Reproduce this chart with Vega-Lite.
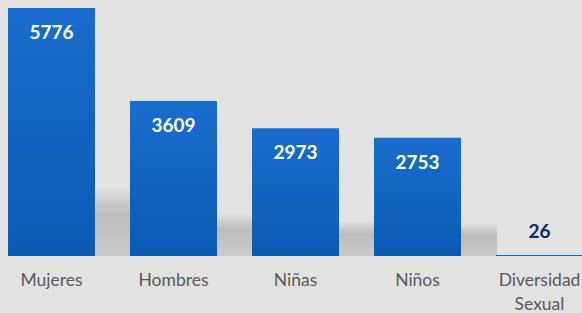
{
  "$schema": "https://vega.github.io/schema/vega-lite/v6.json",
  "width": 582,
  "height": 256,
  "autosize": {"type": "none"},
  "padding": {"left": 0, "top": 0, "right": 0, "bottom": 57},
  "background": "#e2e2e2",
  "config": {"view": {"stroke": null}},
  "data": {
    "values": [
      {"categoria": "Mujeres", "valor": 5776},
      {"categoria": "Hombres", "valor": 3609},
      {"categoria": "Niñas", "valor": 2973},
      {"categoria": "Niños", "valor": 2753},
      {"categoria": "Diversidad Sexual", "valor": 26}
    ]
  },
  "encoding": {
    "x": {
      "field": "categoria",
      "type": "nominal",
      "sort": null,
      "scale": {"range": [-9.5, 600.5], "paddingInner": 0.287, "paddingOuter": 0.1435},
      "axis": {
        "title": null,
        "ticks": false,
        "domain": false,
        "labelAngle": 0,
        "labelFont": "Lato",
        "labelFontSize": 17.5,
        "labelColor": "#595959",
        "labelPadding": 15,
        "labelLineHeight": 24,
        "labelBaseline": "top",
        "labelExpr": "datum.label == 'Diversidad Sexual' ? ['Diversidad', 'Sexual'] : datum.label"
      }
    },
    "y": {
      "field": "valor",
      "type": "quantitative",
      "scale": {"domain": [0, 5962], "nice": false},
      "axis": null
    }
  },
  "layer": [
    {
      "transform": [{"filter": "datum.valor > 100"}],
      "mark": {
        "type": "bar",
        "xOffset": 36,
        "fill": {
          "gradient": "linear",
          "x1": 0, "y1": 0, "x2": 0, "y2": 1,
          "stops": [
            {"offset": 0, "color": "rgba(100,100,100,0)"},
            {"offset": 0.72, "color": "rgba(100,100,100,0)"},
            {"offset": 0.83, "color": "rgba(100,100,100,0.3)"},
            {"offset": 1, "color": "rgba(100,100,100,0.18)"}
          ]
        }
      }
    },
    {
      "mark": {
        "type": "bar",
        "fill": {
          "gradient": "linear",
          "x1": 0, "y1": 0, "x2": 0, "y2": 1,
          "stops": [
            {"offset": 0, "color": "#1a6dcd"},
            {"offset": 1, "color": "#0a5bb3"}
          ]
        }
      }
    },
    {
      "transform": [{"filter": "datum.valor > 100"}],
      "mark": {
        "type": "text",
        "baseline": "alphabetic",
        "dy": 31,
        "font": "Lato",
        "fontWeight": "bold",
        "fontSize": 19,
        "color": "#ffffff"
      },
      "encoding": {"text": {"field": "valor", "type": "quantitative", "format": "d"}}
    },
    {
      "transform": [{"filter": "datum.valor <= 100"}],
      "mark": {
        "type": "text",
        "baseline": "alphabetic",
        "dy": -17,
        "font": "Lato",
        "fontWeight": "bold",
        "fontSize": 19,
        "color": "#0f2a6b"
      },
      "encoding": {"text": {"field": "valor", "type": "quantitative", "format": "d"}}
    }
  ]
}
